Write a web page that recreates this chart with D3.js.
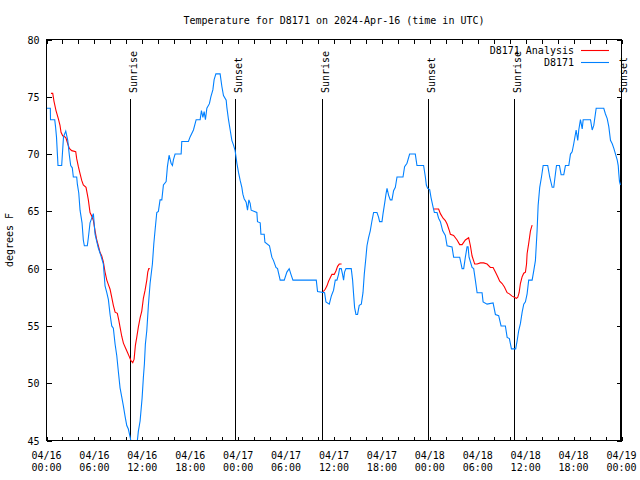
<!DOCTYPE html>
<html>
<head>
<meta charset="utf-8">
<script src="https://cdn.jsdelivr.net/npm/d3@7"></script>
<style>
  html, body { margin: 0; padding: 0; background: #fff; }
  svg { display: block; }
  text { font-family: "DejaVu Sans Mono", "Liberation Mono", monospace; font-size: 10px; fill: #000; }
</style>
</head>
<body>
<svg id="chart" width="640" height="480"></svg>
<script>
// ---------------- DATA ----------------
const chartTitle = "Temperature for D8171 on 2024-Apr-16 (time in UTC)";
const yLabel = "degrees F";
const startUTC = Date.UTC(2024, 3, 16, 0, 0);
const endUTC = Date.UTC(2024, 3, 19, 0, 0);
const yTicks = [45, 50, 55, 60, 65, 70, 75, 80];
const seriesNames = ["D8171 Analysis", "D8171"];
const seriesColors = ["#ff0000", "#0080ff"];

// [hours since 04/16 00:00 UTC, degrees F]
const stationSeries = [
[0.00,74.0],[0.48,74.0],[0.50,73.0],[1.03,73.0],[1.13,72.4],[1.25,71.5],[1.44,69.0],[1.90,69.0],[1.98,69.9],[2.13,71.5],[2.41,72.0],[2.66,71.2],[2.86,69.9],[3.03,69.0],[3.23,68.8],[3.36,68.0],[3.78,68.0],[3.86,67.4],[4.04,66.6],[4.20,65.1],[4.45,64.0],[4.61,62.5],[4.74,62.0],[5.11,62.0],[5.24,62.7],[5.45,64.0],[5.87,64.8],[6.08,63.0],[6.49,61.8],[6.83,61.1],[7.12,60.4],[7.33,58.5],[7.55,57.9],[7.75,57.3],[7.96,56.0],[8.17,55.0],[8.37,54.8],[8.59,53.4],[8.80,52.4],[9.00,51.0],[9.21,49.6],[9.42,48.8],[9.63,48.0],[9.84,47.1],[10.05,46.3],[10.25,46.0],[10.50,45.2],[10.59,44.8],[10.90,43.8],[11.28,44.5],[11.38,45.0],[11.50,45.8],[11.72,46.7],[11.97,48.7],[12.13,50.5],[12.26,51.7],[12.38,53.4],[12.56,54.6],[12.76,56.8],[12.97,58.7],[13.26,60.4],[13.44,62.2],[13.60,63.4],[13.81,64.9],[14.01,65.0],[14.22,66.0],[14.44,66.0],[14.64,67.3],[14.98,67.6],[15.14,68.9],[15.35,69.9],[15.60,69.2],[15.77,69.0],[15.89,69.5],[16.10,70.0],[16.86,70.0],[16.94,71.1],[17.77,71.1],[17.98,71.5],[18.40,72.1],[18.74,73.0],[19.24,73.0],[19.40,73.8],[19.58,73.2],[19.74,73.7],[19.90,73.0],[20.08,74.0],[20.40,74.4],[20.58,75.0],[20.83,75.6],[20.99,76.5],[21.21,77.0],[21.74,77.0],[21.96,75.9],[22.16,75.1],[22.50,74.7],[22.58,74.1],[22.79,73.0],[23.00,72.1],[23.21,71.2],[23.41,70.8],[23.62,70.3],[23.84,69.2],[24.04,68.4],[24.25,67.7],[24.46,67.1],[24.59,66.5],[24.75,66.1],[25.00,65.8],[25.17,65.1],[25.34,66.0],[25.50,65.7],[25.63,65.1],[26.34,64.9],[26.42,64.1],[26.76,64.0],[26.85,63.0],[27.26,63.0],[27.35,62.3],[27.92,62.0],[28.22,61.0],[28.43,60.7],[28.73,60.1],[28.93,60.0],[29.26,59.0],[29.77,59.0],[30.10,59.7],[30.39,60.0],[30.61,59.5],[30.86,59.0],[33.78,59.0],[33.94,58.0],[34.82,57.9],[34.99,57.1],[35.41,56.9],[35.66,57.6],[35.82,57.9],[35.94,58.1],[36.16,59.0],[36.37,59.0],[36.57,59.5],[36.70,60.0],[36.91,60.0],[37.07,59.5],[37.20,59.0],[37.32,59.7],[37.50,60.0],[38.16,60.0],[38.33,59.0],[38.45,57.8],[38.58,56.6],[38.75,56.0],[38.95,56.0],[39.16,56.8],[39.42,56.9],[39.63,57.9],[39.79,59.5],[40.00,61.0],[40.13,62.0],[40.33,62.7],[40.54,63.3],[40.76,64.2],[40.96,64.9],[41.38,64.9],[41.58,64.5],[41.71,64.1],[42.01,64.1],[42.14,64.8],[42.34,65.7],[42.51,66.5],[42.64,67.0],[42.84,66.4],[43.05,66.0],[43.26,66.0],[43.46,66.8],[43.68,67.1],[43.89,68.0],[44.64,68.0],[44.84,68.9],[45.14,69.2],[45.47,70.0],[46.18,70.0],[46.39,69.0],[47.22,69.0],[47.44,68.0],[47.56,67.3],[47.73,67.0],[47.98,66.9],[48.15,66.2],[48.40,65.4],[48.57,64.9],[48.90,64.9],[49.10,64.4],[49.32,64.1],[49.61,63.3],[49.94,62.9],[50.16,62.0],[50.78,61.9],[50.98,61.0],[51.74,61.0],[52.04,60.0],[52.24,60.0],[52.45,61.0],[52.66,61.9],[52.79,61.9],[52.91,61.0],[53.08,60.6],[53.29,60.1],[53.49,60.0],[53.70,59.0],[53.92,57.9],[54.54,57.9],[54.67,57.1],[55.17,56.9],[55.92,57.0],[56.21,56.0],[56.62,55.9],[56.92,55.0],[57.46,55.0],[57.68,54.0],[57.96,53.9],[58.22,53.0],[58.75,53.0],[58.93,53.7],[59.13,54.6],[59.34,55.2],[59.56,56.2],[59.76,56.9],[59.97,57.1],[60.18,57.8],[60.38,59.0],[60.81,59.0],[61.01,59.8],[61.22,60.7],[61.43,63.3],[61.56,65.5],[61.76,67.1],[61.98,68.0],[62.19,69.0],[62.76,69.0],[63.01,68.0],[63.32,67.1],[63.52,67.1],[63.73,68.3],[63.86,69.0],[64.23,69.0],[64.44,68.2],[64.77,68.2],[64.98,69.0],[65.40,69.0],[65.61,70.0],[65.82,70.2],[66.02,70.9],[66.32,72.1],[66.52,71.2],[66.65,72.1],[66.86,73.0],[67.08,72.2],[67.20,73.0],[68.12,73.0],[68.33,72.1],[68.53,72.5],[68.83,74.0],[69.78,74.0],[69.99,73.5],[70.21,73.1],[70.41,72.4],[70.62,71.2],[70.84,70.9],[71.04,70.5],[71.25,70.0],[71.46,69.5],[71.59,69.0],[71.66,68.3],[71.75,67.6],[71.87,67.3]
];

// analysis series, null marks a gap
const analysisSeries = [
[0.56,75.3],[0.78,75.3],[0.94,74.6],[1.19,73.8],[1.48,73.1],[1.69,72.5],[1.82,71.9],[2.03,71.6],[2.32,71.5],[2.44,71.4],[2.66,70.9],[2.86,70.5],[3.16,70.3],[3.66,70.2],[3.78,69.6],[3.99,68.9],[4.20,68.3],[4.41,67.7],[4.61,67.3],[4.95,67.1],[5.11,66.5],[5.24,66.0],[5.45,64.9],[5.66,64.6],[5.87,64.2],[6.08,63.3],[6.29,62.5],[6.49,62.0],[6.71,61.4],[6.92,61.1],[7.12,60.6],[7.33,59.7],[7.55,59.0],[7.75,58.6],[7.96,58.2],[8.17,57.5],[8.37,56.8],[8.59,56.2],[8.87,56.1],[9.05,55.5],[9.21,54.9],[9.42,54.1],[9.63,53.5],[9.88,53.1],[10.13,52.7],[10.38,52.3],[10.55,52.0],[10.80,51.8],[10.97,52.1],[11.13,53.3],[11.30,54.0],[11.50,54.9],[11.72,55.7],[11.93,56.3],[12.13,57.4],[12.34,58.1],[12.56,59.0],[12.68,59.7],[12.81,60.0],[12.93,60.0],
null,
[34.65,58.0],[34.90,58.2],[35.12,58.5],[35.32,58.9],[35.53,59.2],[35.74,59.5],[36.03,59.5],[36.24,59.8],[36.45,60.2],[36.66,60.4],[36.95,60.4],
null,
[48.50,65.2],[49.10,65.2],[49.32,64.8],[49.66,64.4],[49.94,64.2],[50.16,63.9],[50.45,63.3],[50.57,63.0],[50.98,62.9],[51.41,62.5],[51.74,62.1],[52.04,62.1],[52.45,62.5],[52.86,62.7],[53.08,62.0],[53.29,61.1],[53.62,60.4],[53.92,60.4],[54.33,60.5],[54.74,60.5],[55.17,60.4],[55.58,60.1],[55.92,60.1],[56.21,59.7],[56.50,59.3],[56.75,58.9],[57.05,58.7],[57.34,58.4],[57.68,57.9],[57.96,57.8],[58.30,57.6],[58.59,57.5],[58.84,57.4],[59.01,57.5],[59.18,57.9],[59.34,58.7],[59.56,59.3],[59.76,59.6],[59.97,59.7],[60.11,60.4],[60.18,61.3],[60.38,62.2],[60.60,63.3],[60.68,63.5],[60.81,63.8]
];

// sun events: hours since 04/16 00:00 UTC
const sunHours = [10.46, 23.66, 34.55, 47.73, 58.52, 71.79];
const sunLabels = ["Sunrise", "Sunset", "Sunrise", "Sunset", "Sunrise", "Sunset"];

// ---------------- CHART ----------------
const L = 46.5, R = 621.5, T = 39.5, B = 440.5;
const svg = d3.select("#chart");
const hr = h => new Date(startUTC + h * 3600000);

const x = d3.scaleUtc().domain([new Date(startUTC), new Date(endUTC)]).range([L, R]);
const y = d3.scaleLinear().domain([45, 80]).range([B, T]);

svg.append("defs").append("clipPath").attr("id", "plotclip")
  .append("rect").attr("x", L).attr("y", T).attr("width", R - L).attr("height", B - T);

// title
svg.append("text").attr("x", (L + R) / 2).attr("y", 24).attr("text-anchor", "middle").text(chartTitle);

// axes
const tick2h = d3.utcHour.every(2).range(new Date(startUTC), new Date(endUTC + 1));
const tick6h = d3.utcHour.every(6).range(new Date(startUTC), new Date(endUTC + 1));

const gB = svg.append("g").attr("transform", `translate(0,${B})`)
  .call(d3.axisBottom(x).tickValues(tick2h).tickSize(-4).tickSizeOuter(0).tickFormat(""));
const gT = svg.append("g").attr("transform", `translate(0,${T})`)
  .call(d3.axisTop(x).tickValues(tick2h).tickSize(-4).tickSizeOuter(0).tickFormat(""));
const gL = svg.append("g").attr("transform", `translate(${L},0)`)
  .call(d3.axisLeft(y).tickValues(yTicks).tickSize(-5).tickSizeOuter(0).tickPadding(7).tickFormat(d3.format("d")));
const gR = svg.append("g").attr("transform", `translate(${R},0)`)
  .call(d3.axisRight(y).tickValues(yTicks).tickSize(-5).tickSizeOuter(0).tickFormat(""));
[gB, gT, gL, gR].forEach(g => {
  g.select(".domain").remove();
  g.selectAll("line").attr("stroke", "#000").attr("shape-rendering", "crispEdges");
  g.selectAll("text").attr("font-family", null).attr("font-size", null).attr("fill", "#000");
});
gL.selectAll("text").attr("dy", "0.35em");

// x labels, two lines
const fmtDate = d3.utcFormat("%m/%d"), fmtTime = d3.utcFormat("%H:%M");
const xl = svg.append("g");
tick6h.forEach(t => {
  const tx = xl.append("text").attr("text-anchor", "middle");
  tx.append("tspan").attr("x", x(t)).attr("y", 458.5).text(fmtDate(t));
  tx.append("tspan").attr("x", x(t)).attr("y", 471).text(fmtTime(t));
});

// y label
svg.append("text").attr("transform", `translate(13,${(T + B) / 2}) rotate(-90)`)
  .attr("text-anchor", "middle").text(yLabel);

// sunrise / sunset
const sun = svg.append("g");
sunHours.forEach((h, i) => {
  const sx = Math.round(x(hr(h))) + 0.5;
  sun.append("line").attr("x1", sx).attr("x2", sx).attr("y1", 99).attr("y2", B)
    .attr("stroke", "#000").attr("shape-rendering", "crispEdges");
  sun.append("text").attr("transform", `translate(${sx + 6.5},93) rotate(-90)`)
    .attr("text-anchor", "start").text(sunLabels[i]);
});

// data lines
const line = d3.line().defined(d => d !== null).x(d => x(hr(d[0]))).y(d => y(d[1]));
const plot = svg.append("g").attr("clip-path", "url(#plotclip)");
plot.append("path").datum(analysisSeries).attr("d", line)
  .attr("fill", "none").attr("stroke", seriesColors[0]).attr("stroke-width", 1.1);
plot.append("path").datum(stationSeries).attr("d", line)
  .attr("fill", "none").attr("stroke", seriesColors[1]).attr("stroke-width", 1.1);

// border
svg.append("rect").attr("x", L).attr("y", T).attr("width", R - L).attr("height", B - T)
  .attr("fill", "none").attr("stroke", "#000").attr("shape-rendering", "crispEdges");

// legend
const leg = svg.append("g");
seriesNames.forEach((name, i) => {
  const ly = 50.5 + i * 12;
  leg.append("text").attr("x", 574).attr("y", ly + 3.5).attr("text-anchor", "end").text(name);
  leg.append("line").attr("x1", 581).attr("x2", 609).attr("y1", ly).attr("y2", ly)
    .attr("stroke", seriesColors[i]).attr("stroke-width", 1.1);
});
</script>
</body>
</html>
